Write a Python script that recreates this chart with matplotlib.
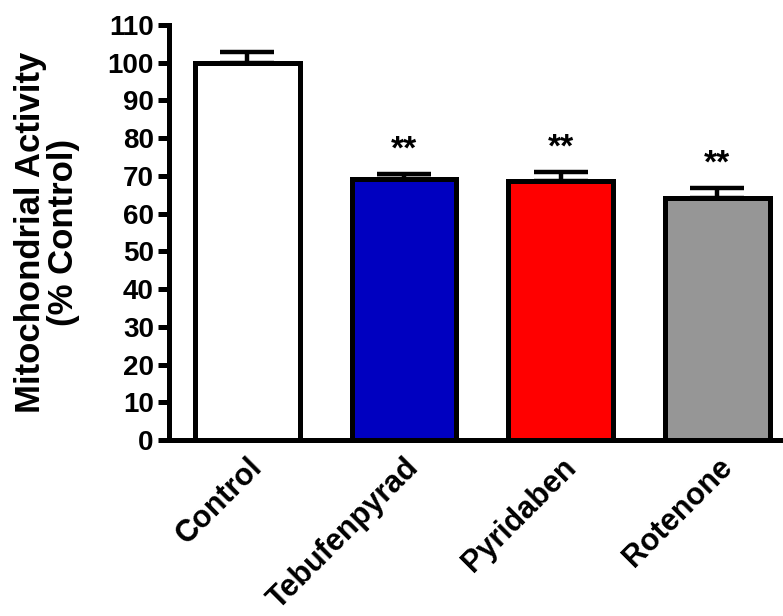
import numpy as np
import matplotlib.pyplot as plt

groups = ['Control', 'Tebufenpyrad', 'Pyridaben', 'Rotenone']
means = [100.0, 69.2, 68.7, 64.2]
sems = [2.9, 1.4, 2.3, 2.6]
stars = ['', '**', '**', '**']
colors = ['#FFFFFF', '#0000C0', '#FF0000', '#969696']

plt.rcParams['font.family'] = ['Liberation Sans', 'DejaVu Sans']
plt.rcParams['font.weight'] = 'bold'

fig = plt.figure(figsize=(7.83, 6.16), dpi=100)
ax = fig.add_axes([0.216, 0.2857, 0.784, 0.6737])

x = np.arange(len(groups))
ax.bar(x, means, width=0.67, color=colors, edgecolor='black', linewidth=3.6, zorder=3)
ax.errorbar(x, means, yerr=[np.zeros(len(sems)), sems], fmt='none', ecolor='black',
            elinewidth=3.2, capsize=19.5, capthick=3.2, zorder=2)

for xi, m, s, st in zip(x, means, sems, stars):
    if st:
        ax.text(xi, m + s + 6.3, st, ha='center', va='center', fontsize=24, fontweight='bold')

ax.set_xlim(-0.5, 3.42)
ax.set_ylim(0, 110)
ax.set_yticks(np.arange(0, 111, 10))
ax.set_xticks(x)
ax.set_xticklabels(groups, rotation=45, ha='right', rotation_mode='anchor',
                   fontsize=22, fontweight='bold')
for lab in ax.get_yticklabels():
    lab.set_fontsize(20)
    lab.set_fontweight('bold')

ax.spines['top'].set_visible(False)
ax.spines['right'].set_visible(False)
ax.spines['left'].set_linewidth(3.6)
ax.spines['bottom'].set_linewidth(3.6)
ax.tick_params(axis='y', length=8, width=3.6, pad=3)
ax.tick_params(axis='x', length=0, pad=9)

ax.set_ylabel('Mitochondrial Activity\n(% Control)', fontsize=25, fontweight='bold',
              linespacing=1.0)
ax.yaxis.set_label_coords(-0.145, 0.5)

fig.savefig('out.png', dpi=100)
